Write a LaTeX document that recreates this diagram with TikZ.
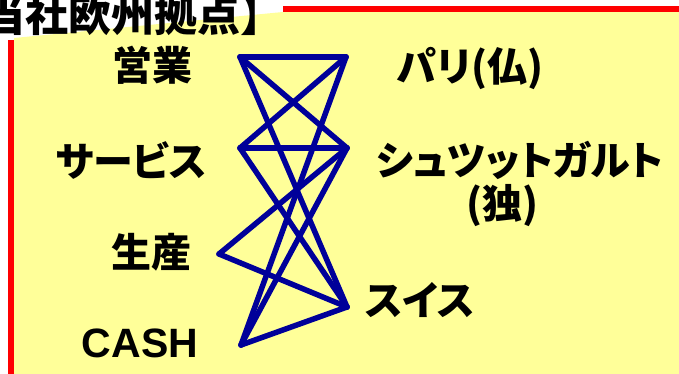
\documentclass[tikz,border=0pt]{standalone}
\usepackage{fontspec}
\setmainfont{Liberation Sans}
\newfontfamily\jp{Noto Sans CJK JP}[RawFeature=+palt]
\newfontfamily\jptitle{Noto Sans CJK JP}
\definecolor{paper}{HTML}{FFFF99}
\definecolor{navy}{HTML}{000099}

\begin{document}
\begin{tikzpicture}[x=1pt,y=-1pt,every node/.style={inner sep=0pt,font=\jp\bfseries\fontsize{40}{40}\selectfont},
	link/.style={navy,line width=5.5pt,line cap=round,line join=round}]
	\useasboundingbox (0,0) rectangle (679,374);
	% background and frame
	\fill[paper] (14,38) -- (283,12) -- (679,12) -- (679,374) -- (14,374) -- cycle;
	\draw[red,line width=5.5pt] (11,40) -- (11,374);
	\draw[red,line width=6pt] (283,9) -- (679,9);
	\node[anchor=west,font=\jptitle\bfseries\fontsize{43}{43}\selectfont] (title) at (-18,15) {当社欧州拠点】};
	% functions (left)
	\node (eigyoL) at (152,65) {営業};
	\node (serviceL) at (131,160) {サービス};
	\node (seisanL) at (151,252) {生産};
	\node[font=\bfseries\fontsize{41}{41}\selectfont] (cashL) at (140,343) {CASH};
	% sites (right)
	\node (parisL) at (470,68) {パリ(仏)};
	\node (stuttL) at (520,160) {シュツットガルト};
	\node (dokuL) at (502,206) {(独)};
	\node (swissL) at (420,300) {スイス};
	\coordinate (eigyo) at (240,57);
	\coordinate (service) at (240,148);
	\coordinate (seisan) at (219,254);
	\coordinate (cash) at (241,345);
	\coordinate (paris) at (346,57);
	\coordinate (stutt) at (347,148);
	\coordinate (swiss) at (347,307);
	\foreach \a/\b in {eigyo/paris,eigyo/stutt,eigyo/swiss,service/paris,service/stutt,service/swiss,seisan/stutt,seisan/swiss,cash/paris,cash/stutt,cash/swiss}
		\draw[link] (\a) -- (\b);
\end{tikzpicture}
\end{document}
